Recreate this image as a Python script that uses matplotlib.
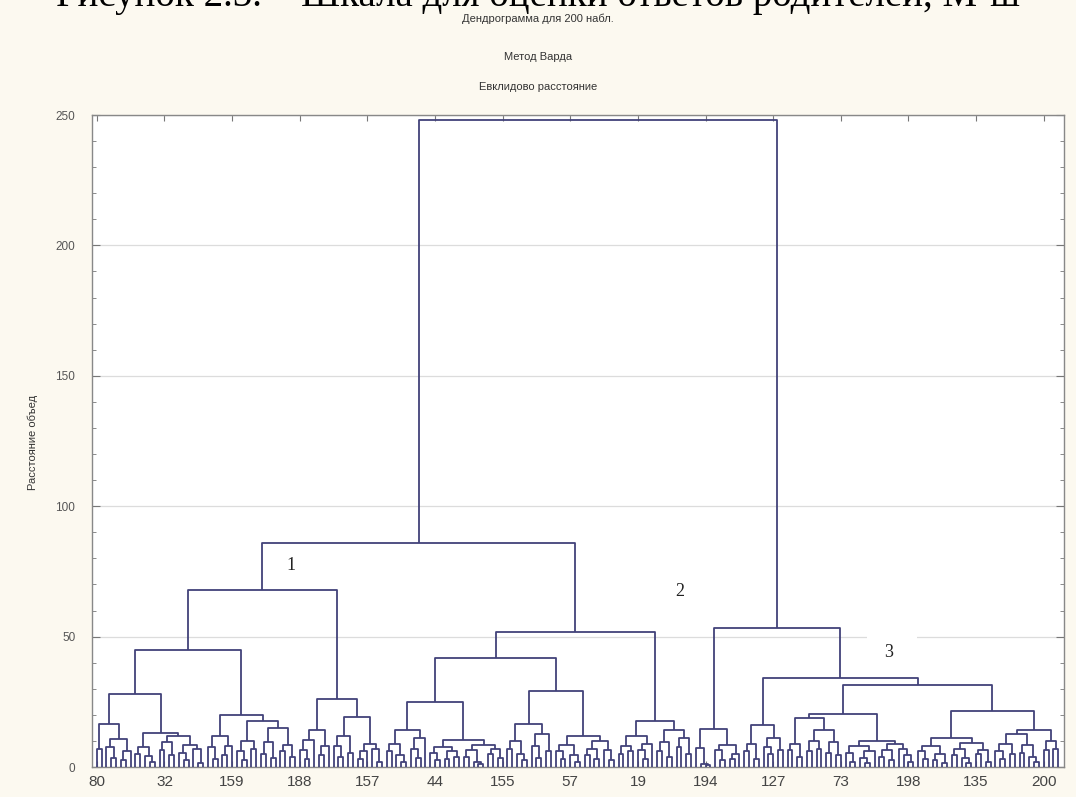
import matplotlib
matplotlib.use("Agg")
import matplotlib.pyplot as plt
from matplotlib.patches import Rectangle
from matplotlib.ticker import MultipleLocator

# ---- tree data: each internal node is [merge height, left, right]; 0 = a single observation
L1 = [16.5, [7, 0, 0], [10.8, [7.6, 0, [3.5, 0, 0]], [6, [2.5, 0, 0], 0]]]
L2 = [13, [7.5, [5, 0, 0], [4.2, 0, [1.8, 0, 0]]],
      [12, [9.5, [6.5, 0, 0], [4.5, 0, 0]], [8.5, [5.5, 0, [2.5, 0, 0]], [6.8, 0, [1.5, 0, 0]]]]]
L3 = [12, [7.5, 0, [3, 0, 0]], [8, [4.5, 0, 0], 0]]
L4 = [17.5, [10, [6, 0, [2.5, 0, 0]], [7, 0, 0]], [15, [9.5, [5, 0, 0], [3.5, 0, 0]], [8.5, [6, 0, 0], [4, 0, 0]]]]
L5 = [14, [10.5, [6.5, 0, [3, 0, 0]], 0], [8, [4.5, 0, 0], 0]]
L6 = [19, [12, [8, 0, [4, 0, 0]], [5.5, 0, 0]], [9, [6, [3, 0, 0], 0], [7, 0, [2, 0, 0]]]]
L7 = [14, [9, [6, 0, 0], [4.5, 0, [2, 0, 0]]], [11, [7, 0, [3.5, 0, 0]], 0]]
L8 = [10.4, [7.5, [5.5, 0, [2.5, 0, 0]], [6, [3, 0, 0], [4, 0, 0]]],
      [8.5, [6.5, [4, 0, 0], [2, 0, [1, 0, 0]]], [7, [5, 0, 0], [3.5, 0, 0]]]]
L9 = [16.6, [10, [7, 0, 0], [5, 0, [2.5, 0, 0]]], [12.5, [8, 0, [3.5, 0, 0]], [6, 0, 0]]]
L10 = [12, [8.5, [6, 0, [3, 0, 0]], [4.5, 0, [2, 0, 0]]], [10, [7, [4.5, 0, 0], [3, 0, 0]], [6.5, 0, [2.5, 0, 0]]]]
L11 = [12, [8, [5, 0, 0], [6, 0, 0]], [9, [6.5, 0, [3, 0, 0]], 0]]
L12 = [14, [9.5, [6, 0, 0], [4, 0, 0]], [11, [7.5, 0, 0], [5, 0, 0]]]
B1 = [14.6, [7.4, 0, [1.2, 0, [0.8, 0, 0]]], [8.5, [6.5, 0, [2.5, 0, 0]], [5, [3, 0, 0], 0]]]
B2a = [16.2, [9, [6, 0, 0], [3, 0, 0]], [11, [7.5, 0, [5, 0, 0]], [6.5, 0, 0]]]
L13 = [18.9, [9, [6.5, 0, 0], [4, 0, 0]], [14.3, [10, [6, 0, 0], [7, 0, 0]], [9.5, [5.5, 0, 0], [4.5, 0, 0]]]]
L14 = [10, [8, [5.5, 0, [2, 0, 0]], [6, [3.5, 0, [1.5, 0, 0]], 0]],
       [9, [6.5, [4, 0, 0], [2.5, 0, 0]], [7, 0, [4.5, 0, [2, 0, 0]]]]]
L15 = [11.2, [8, [6, 0, [3, 0, 0]], [5, [2.5, 0, 0], [1.5, 0, 0]]],
       [9.3, [7, [4.5, 0, 0], [3.5, 0, [1.5, 0, 0]]], [6.5, [5, 0, 0], [2, 0, 0]]]]
L16 = [14.3, [12.7, [9, [6, 0, [3, 0, 0]], [5, 0, 0]], [8.5, [5.5, 0, 0], [4, 0, [2, 0, 0]]]],
       [10, [6.5, 0, 0], [7, 0, 0]]]

A1a1 = [27.8, L1, L2]
A1a2 = [20, L3, L4]
A1a = [45, A1a1, A1a2]
A1b = [26, L5, L6]
A1 = [68, A1a, A1b]
A2a1 = [25, L7, L8]
A2a2 = [29.3, L9, L10]
A2a = [41.7, A2a1, A2a2]
A2b = [17.7, L11, L12]
A2 = [51.7, A2a, A2b]
A = [86, A1, A2]
B2b1 = [20.4, L13, L14]
B2b2 = [21.6, L15, L16]
B2b = [31.3, B2b1, B2b2]
B2 = [34.3, B2a, B2b]
B = [53.2, B1, B2]
root = [248, A, B]

tick_labels = ["80", "32", "159", "188", "157", "44", "155", "57", "19",
               "194", "127", "73", "198", "135", "200"]
label_step = 14
cluster_names = ["1", "2", "3"]
cluster_pos = [(41.2, 77.3), (121.7, 67.3), (164.8, 43.8)]

# ---- layout of the tree
segments = []
counter = [0]


def walk(node):
    if not isinstance(node, list):
        counter[0] += 1
        return float(counter[0]), 0.0
    h, left, right = node
    xl, hl = walk(left)
    xr, hr = walk(right)
    segments.append(([xl, xl, xr, xr], [hl, h, h, hr]))
    return (xl + xr) / 2.0, h


walk(root)
n_leaves = counter[0]

bg = "#fcf9f0"
fig = plt.figure(figsize=(10.76, 7.97), dpi=100, facecolor=bg)
ax = fig.add_axes([92 / 1076, 30 / 797, (1064 - 92) / 1076, (767 - 115) / 797])
ax.set_facecolor("white")

line_col = "#42427a"
for xs, ys in segments:
    ax.plot(xs, ys, color=line_col, lw=1.3, solid_capstyle="butt", zorder=3)

ax.set_xlim(0, n_leaves + 1.2)
ax.set_ylim(0, 250)

ax.yaxis.set_major_locator(MultipleLocator(50))
ax.yaxis.set_minor_locator(MultipleLocator(10))
xt = list(range(1, n_leaves + 1, label_step))
ax.set_xticks(xt)
ax.set_xticklabels(tick_labels[:len(xt)])
ax.grid(axis="y", which="major", color="#dcdcdc", lw=0.9, zorder=0)
ax.set_axisbelow(True)

ax.tick_params(axis="both", which="both", direction="in", top=True, right=True,
               color="#777777")
ax.tick_params(axis="y", which="major", length=6, labelsize=8.5, pad=12,
               labelcolor="#555555")
ax.tick_params(axis="y", which="minor", length=3)
ax.tick_params(axis="x", which="major", length=4, labelsize=11, pad=6,
               labelcolor="#444444")
for lab in ax.get_xticklabels() + ax.get_yticklabels():
    lab.set_fontfamily("Liberation Sans")
for sp in ax.spines.values():
    sp.set_color("#888888")
    sp.set_linewidth(1.0)

# white patch behind cluster label 3 (breaks the grid line as in the source)
ax.add_patch(Rectangle((160.4, 43), 10.4, 12, facecolor="white", edgecolor="none", zorder=1))

for name, (cx, cy) in zip(cluster_names, cluster_pos):
    ax.text(cx, cy, name, ha="center", va="center", fontsize=13,
            family="Liberation Serif", color="#222222", zorder=4)

# titles (the caption above is cut off by the top edge, as in the source)
fig.text(0.5, 1 - 6 / 797, "Рисунок 2.3. – Шкала для оценки ответов родителей, М-ш",
         ha="center", va="baseline", fontsize=28, family="Liberation Serif", color="black")
fig.text(0.5, 1 - 19 / 797, "Дендрограмма для 200 набл.", ha="center", va="center",
         fontsize=8, family="Liberation Sans", color="#333333")
fig.text(0.5, 1 - 57 / 797, "Метод Варда", ha="center", va="center",
         fontsize=8, family="Liberation Sans", color="#333333")
fig.text(0.5, 1 - 87 / 797, "Евклидово расстояние", ha="center", va="center",
         fontsize=8, family="Liberation Sans", color="#333333")
fig.text(33 / 1076, 1 - 442 / 797, "Расстояние объед", rotation=90, ha="center",
         va="center", fontsize=8, family="Liberation Sans", color="#333333")

fig.savefig("out.png", dpi=100, facecolor=bg)
